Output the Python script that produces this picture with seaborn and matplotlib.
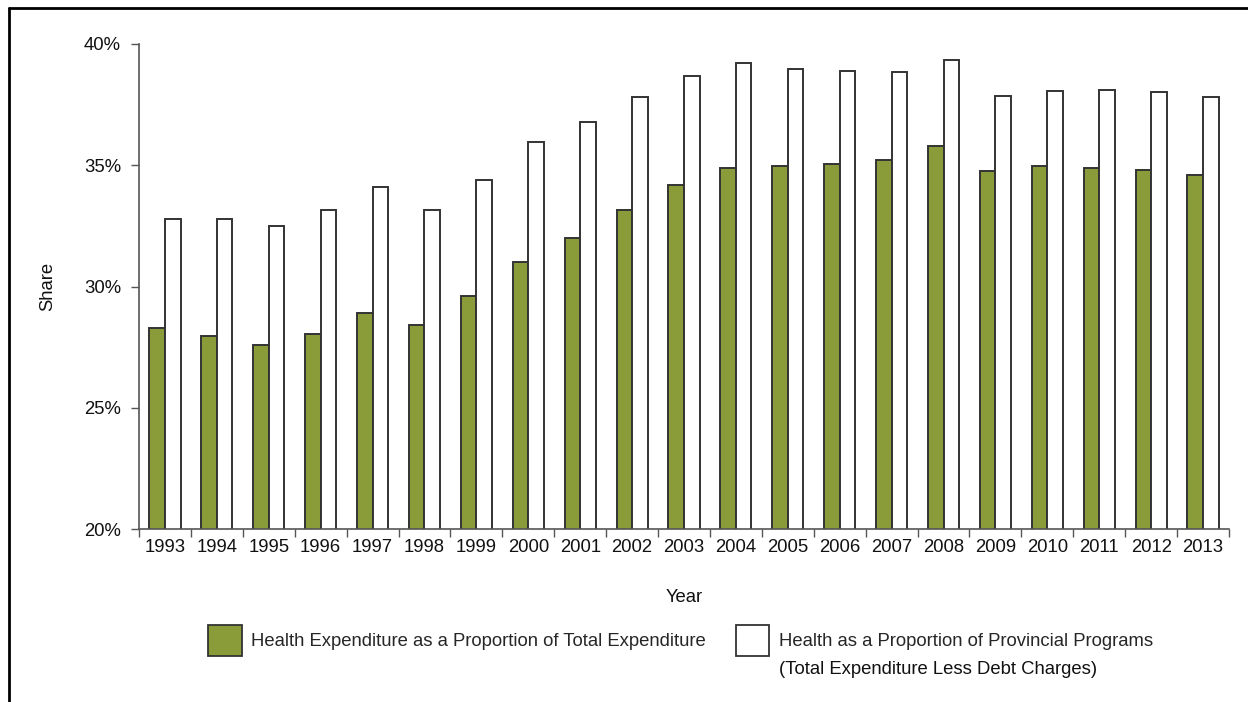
import matplotlib
matplotlib.use("Agg")
import matplotlib.pyplot as plt
from matplotlib.lines import Line2D
import seaborn as sns
import pandas as pd

years = [str(y) for y in range(1993, 2014)]
health_total = [28.28, 27.96, 27.6, 28.05, 28.9, 28.4, 29.6, 31.0, 32.0, 33.15,
                34.2, 34.9, 34.95, 35.05, 35.2, 35.8, 34.76, 34.96, 34.9, 34.8, 34.6]
health_programs = [32.8, 32.77, 32.5, 33.15, 34.1, 33.15, 34.4, 35.95, 36.8, 37.8,
                   38.68, 39.2, 38.98, 38.88, 38.85, 39.35, 37.84, 38.07, 38.1, 38.02, 37.8]
series_names = ["Health Expenditure as a Proportion of Total Expenditure",
                "Health as a Proportion of Provincial Programs"]
series2_note = "(Total Expenditure Less Debt Charges)"
y_ticks = [20, 25, 30, 35, 40]

df = pd.DataFrame({
    "Year": years * 2,
    "Share": health_total + health_programs,
    "Series": [series_names[0]] * len(years) + [series_names[1]] * len(years),
})

sns.set_theme(style="white")
plt.rcParams["font.family"] = ["Liberation Sans", "DejaVu Sans"]

FS = 13.3
fig = plt.figure(figsize=(12.48, 7.02), dpi=100)
ax = fig.add_axes([139 / 1248, 1 - 529 / 702, (1229 - 139) / 1248, (529 - 44) / 702])

sns.barplot(data=df, x="Year", y="Share", hue="Series", ax=ax,
            palette=["#8A9C3A", "#FFFFFF"], width=0.6, dodge=True,
            edgecolor="#333333", linewidth=1.4, saturation=1, gap=0)

ax.set_ylim(20, 40)
ax.set_xlim(-0.5, len(years) - 0.5)
ax.set_yticks(y_ticks)
ax.set_yticklabels([f"{t}%" for t in y_ticks], fontsize=FS, color="#111111")
ax.set_xticks(range(len(years)))
ax.set_xticklabels(years, fontsize=FS, color="#111111")
ax.tick_params(axis="x", length=0, pad=7)
ax.tick_params(axis="y", length=6, width=1, color="#555555", left=True, pad=7)
ax.set_xticks([i - 0.5 for i in range(len(years) + 1)], minor=True)
ax.tick_params(axis="x", which="minor", length=6, width=1, color="#555555", bottom=True)

for s in ["top", "right"]:
    ax.spines[s].set_visible(False)
for s in ["left", "bottom"]:
    ax.spines[s].set_color("#555555")
    ax.spines[s].set_linewidth(1.2)

ax.set_xlabel("Year", fontsize=FS, color="#111111", labelpad=24)
ax.set_ylabel("Share", fontsize=FS, color="#111111", labelpad=20)

ax.legend_.remove()
handles, labels = ax.get_legend_handles_labels()
leg = fig.legend(handles, labels, ncol=2, frameon=False, fontsize=FS,
                 loc="upper left", bbox_to_anchor=(201 / 1248, 1 - 618 / 702),
                 handlelength=1.8, handleheight=2.15, handletextpad=0.5,
                 columnspacing=1.65, borderaxespad=0)
for h in leg.legend_handles:
    h.set_edgecolor("#333333")
    h.set_linewidth(1.3)

fig.canvas.draw()
renderer = fig.canvas.get_renderer()
bb = leg.get_texts()[1].get_window_extent(renderer)
x0 = bb.x0 / fig.bbox.width
y0 = (bb.y0 - 28 + bb.height / 2) / fig.bbox.height
fig.text(x0, y0, series2_note, fontsize=FS, color="#111111", ha="left", va="center")

fig.add_artist(Line2D([9 / 1248, 1], [1 - 8 / 702, 1 - 8 / 702], color="black", lw=2, transform=fig.transFigure))
fig.add_artist(Line2D([9 / 1248, 9 / 1248], [0, 1 - 8 / 702], color="black", lw=2, transform=fig.transFigure))

fig.savefig("out.png", dpi=100, facecolor="white")
